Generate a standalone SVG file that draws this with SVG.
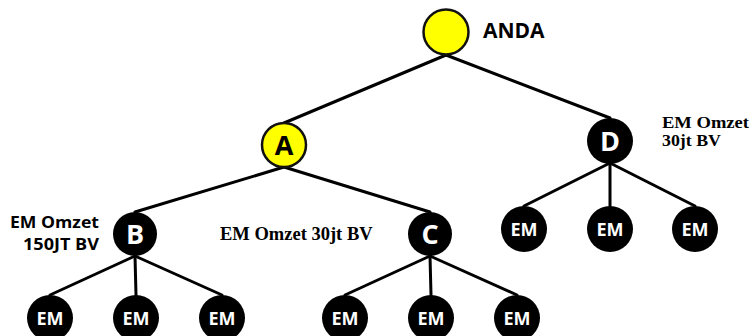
<svg xmlns="http://www.w3.org/2000/svg" width="752" height="336" viewBox="0 0 752 336">
<style>
.e{stroke:#000;stroke-width:3;fill:none;stroke-linecap:round}
.y{fill:#ffff00;stroke:#111;stroke-width:2.5}
.k{fill:#000}
.lt{font-family:"Open Sans","Liberation Sans",sans-serif;font-weight:bold;text-anchor:middle}
.big{font-size:27px}
.em{font-size:18px;fill:#fff}
.sans{font-family:"Open Sans","Liberation Sans",sans-serif;font-weight:bold;font-size:16px;fill:#000}
.serif{font-family:"Liberation Serif","Times New Roman",serif;font-weight:bold;font-size:18.5px;fill:#000}
</style>
<rect width="752" height="336" fill="#fff"/>
<g id="connectors">
<line class="e" x1="446" y1="55" x2="284" y2="123"/>
<line class="e" x1="446" y1="55" x2="610" y2="118"/>
<line class="e" x1="284" y1="167" x2="135" y2="212"/>
<line class="e" x1="284" y1="167" x2="430" y2="212"/>
<line class="e" x1="610" y1="163" x2="524" y2="206"/>
<line class="e" x1="610" y1="163" x2="610" y2="206"/>
<line class="e" x1="610" y1="163" x2="695" y2="206"/>
<line class="e" x1="135" y1="256" x2="50" y2="295"/>
<line class="e" x1="135" y1="256" x2="136" y2="295"/>
<line class="e" x1="135" y1="256" x2="222" y2="295"/>
<line class="e" x1="430" y1="256" x2="345" y2="295"/>
<line class="e" x1="430" y1="256" x2="431" y2="295"/>
<line class="e" x1="430" y1="256" x2="517" y2="295"/>
</g>
<g id="anda">
<circle class="y" cx="446" cy="32" r="22.5"/>
<text x="483" y="38" class="sans" style="font-size:21px">ANDA</text>
</g>
<g id="a">
<circle class="y" cx="284" cy="145" r="22"/>
<text x="284" y="155" class="lt big" fill="#000">A</text>
</g>
<g id="d">
<circle class="k" cx="610" cy="141" r="23"/>
<text x="610" y="151" class="lt big" fill="#fff">D</text>
<text class="serif" style="font-size:16.5px"><tspan x="662" y="128" textLength="87" lengthAdjust="spacingAndGlyphs">EM Omzet</tspan><tspan x="662" y="146" textLength="59" lengthAdjust="spacingAndGlyphs">30jt BV</tspan></text>
</g>
<g id="b">
<circle class="k" cx="135" cy="234" r="22"/>
<text x="135" y="244" class="lt big" fill="#fff">B</text>
<text class="sans"><tspan x="10" y="228" textLength="89" lengthAdjust="spacingAndGlyphs">EM Omzet</tspan><tspan x="23" y="250" textLength="76" lengthAdjust="spacingAndGlyphs">150JT BV</tspan></text>
</g>
<g id="c">
<circle class="k" cx="430" cy="234" r="22"/>
<text x="430" y="244" class="lt big" fill="#fff">C</text>
</g>
<g id="label-mid">
<text x="220" y="240" class="serif">EM Omzet 30jt BV</text>
</g>
<g id="d1"><circle class="k" cx="524" cy="229" r="23"/><text x="524" y="235.5" class="lt em">EM</text></g>
<g id="d2"><circle class="k" cx="610" cy="229" r="23"/><text x="610" y="235.5" class="lt em">EM</text></g>
<g id="d3"><circle class="k" cx="695" cy="229" r="23"/><text x="695" y="235.5" class="lt em">EM</text></g>
<g id="b1"><circle class="k" cx="50" cy="318" r="23"/><text x="50" y="324.5" class="lt em">EM</text></g>
<g id="b2"><circle class="k" cx="136" cy="318" r="23"/><text x="136" y="324.5" class="lt em">EM</text></g>
<g id="b3"><circle class="k" cx="222" cy="318" r="23"/><text x="222" y="324.5" class="lt em">EM</text></g>
<g id="c1"><circle class="k" cx="345" cy="318" r="23"/><text x="345" y="324.5" class="lt em">EM</text></g>
<g id="c2"><circle class="k" cx="431" cy="318" r="23"/><text x="431" y="324.5" class="lt em">EM</text></g>
<g id="c3"><circle class="k" cx="517" cy="318" r="23"/><text x="517" y="324.5" class="lt em">EM</text></g>
</svg>
